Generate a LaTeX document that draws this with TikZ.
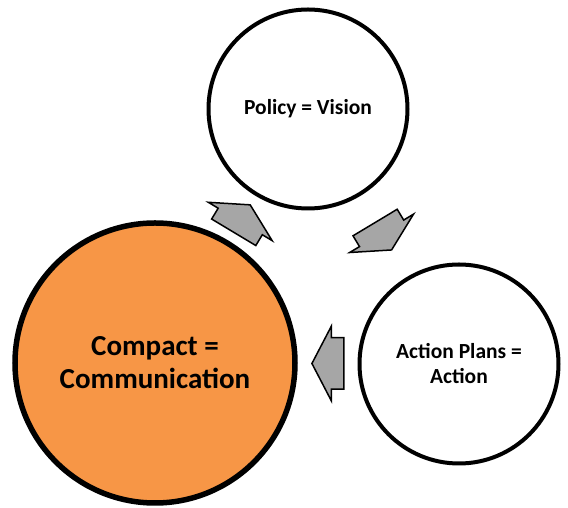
\documentclass[tikz,border=0pt]{standalone}
\usepackage{fontspec}
\setmainfont{Carlito}
\usetikzlibrary{shapes.arrows,calc}
\definecolor{compactorange}{HTML}{F79646}
\begin{document}
\begin{tikzpicture}[
        x=1pt, y=1pt,
        stage/.style={circle, draw=black, fill=white, line width=4pt, minimum size=199pt, inner sep=0pt, align=center, font=\fontsize{21.5}{25}\selectfont\bfseries},
        hub/.style={circle, draw=black, fill=compactorange, line width=5.5pt, minimum size=280pt, inner sep=0pt, align=center, font=\fontsize{29}{33}\selectfont\bfseries},
        flow/.style={single arrow, draw=black, fill=gray!70, line width=1.5pt, minimum height=32pt, inner xsep=0pt, inner ysep=25pt, single arrow head extend=11.5pt, single arrow tip angle=125, anchor=center, xshift=-7pt}
    ]
        \useasboundingbox (0,0) rectangle (568,508);

        % Circles
        \node[hub] (compact) at (155,145) {Compact =\\Communication};
        \node[stage] (policy) at (308,399) {Policy = Vision};
        \node[stage] (action) at (459,144) {Action Plans =\\Action};

        % Arrows
        \node[rotate=59, flow] (up) at ($(compact.59)!0.5!(policy.239)$) {};
        \node[rotate=-59, flow] (down) at ($(policy.-59)!0.5!(action.121)$) {};
        \node[rotate=180, flow] (back) at ($(action.west)!0.5!(compact.east)$) {};
    \end{tikzpicture}
\end{document}
